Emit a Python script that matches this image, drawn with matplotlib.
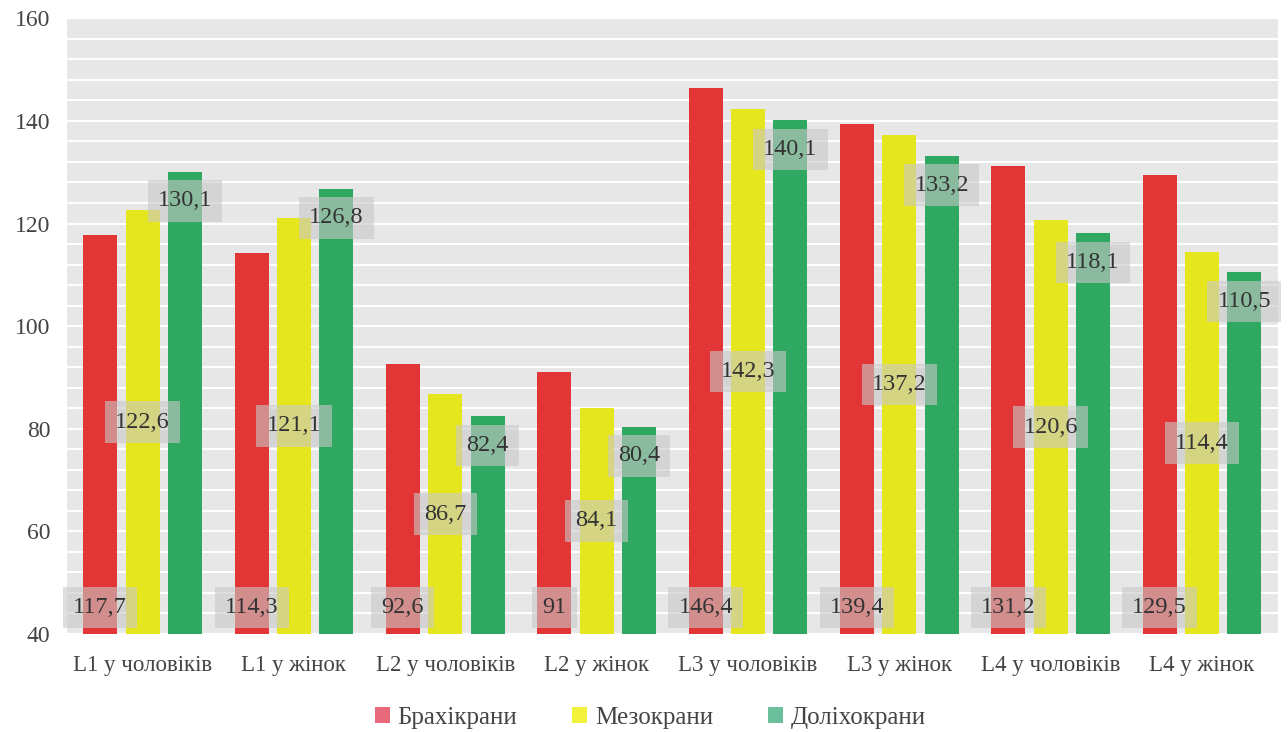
import numpy as np
import matplotlib
matplotlib.use('Agg')
import matplotlib.pyplot as plt
from matplotlib.patches import Patch

categories = ['L1 у чоловіків', 'L1 у жінок', 'L2 у чоловіків', 'L2 у жінок',
              'L3 у чоловіків', 'L3 у жінок', 'L4 у чоловіків', 'L4 у жінок']
brachy = [117.7, 114.3, 92.6, 91, 146.4, 139.4, 131.2, 129.5]
meso = [122.6, 121.1, 86.7, 84.1, 142.3, 137.2, 120.6, 114.4]
dolicho = [130.1, 126.8, 82.4, 80.4, 140.1, 133.2, 118.1, 110.5]
series_names = ['Брахікрани', 'Мезокрани', 'Доліхокрани']

bar_colors = ['#e23636', '#e6e61e', '#2fa862']
legend_colors = ['#e8687c', '#f2f23a', '#6cbf9c']

plt.rcParams['font.family'] = ['Liberation Serif', 'DejaVu Serif']

fig = plt.figure(figsize=(12.88, 7.32), dpi=100)
ax = fig.add_axes([0.052, 0.134, 0.940, 0.841])
ax.set_facecolor('#e7e7e7')

x = np.arange(len(categories))
width = 0.225
offsets = [-0.28, 0.0, 0.28]
ymin = 40

def fmt(v):
    s = ('%.1f' % v).replace('.', ',')
    return s[:-2] if s.endswith(',0') else s

box = dict(boxstyle='square,pad=0.42', facecolor='#c8c8c8', edgecolor='none', alpha=0.6)

for i, (vals, col) in enumerate(zip([brachy, meso, dolicho], bar_colors)):
    xs = x + offsets[i]
    ax.bar(xs, np.array(vals) - ymin, width, bottom=ymin, color=col, zorder=3)
    for xi, v in zip(xs, vals):
        if i == 0:
            ylab = 45.2
        elif i == 1:
            ylab = (ymin + v) / 2
        else:
            ylab = v - 5.7
        ax.text(xi, ylab, fmt(v), ha='center', va='center', fontsize=17.5,
                color='#333333', bbox=box, zorder=5)

ax.set_ylim(40, 160)
ax.set_xlim(-0.5, len(categories) - 0.5)
ax.set_yticks(np.arange(40, 161, 20))
ax.set_yticks(np.arange(40, 161, 4), minor=True)
ax.grid(True, axis='y', which='both', color='white', linewidth=1.5, zorder=0)
ax.set_axisbelow(True)
ax.set_xticks(x)
ax.set_xticklabels(categories, fontsize=16.5, color='#444444')
ax.tick_params(axis='y', which='both', length=0, labelsize=17, labelcolor='#444444', pad=12)
ax.tick_params(axis='x', length=0, pad=15)
for sp in ax.spines.values():
    sp.set_visible(False)

handles = [Patch(facecolor=c, edgecolor='none') for c in legend_colors]
fig.legend(handles, series_names, loc='center', bbox_to_anchor=(0.505, 0.019),
           ncol=3, frameon=False, fontsize=18, handlelength=0.6, handleheight=0.6,
           handletextpad=0.3, columnspacing=2.2, labelcolor='#444444')

fig.savefig('out.png', dpi=100)
